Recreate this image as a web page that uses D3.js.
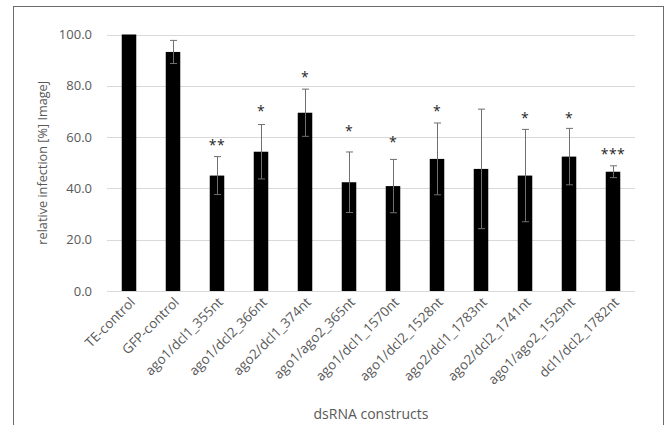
<!DOCTYPE html>
<html>
<head>
<meta charset="utf-8">
<script src="https://cdn.jsdelivr.net/npm/d3@7"></script>
<style>
  html, body { margin: 0; padding: 0; background: #fff; }
  svg { display: block; font-family: "Open Sans", "Noto Sans", sans-serif; }
</style>
</head>
<body>
<svg id="chart" width="672" height="425"></svg>
<script>
const categories = ["TE-control", "GFP-control", "ago1/dcl1_355nt", "ago1/dcl2_366nt", "ago2/dcl1_374nt",
  "ago1/ago2_365nt", "ago1/dcl1_1570nt", "ago1/dcl2_1528nt", "ago2/dcl1_1783nt", "ago2/dcl2_1741nt",
  "ago1/ago2_1529nt", "dcl1/dcl2_1782nt"];
const values = [100.0, 93.2, 45.0, 54.3, 69.5, 42.4, 40.9, 51.5, 47.6, 45.0, 52.4, 46.5];
const errors = [0, 4.5, 7.4, 10.6, 9.2, 11.8, 10.4, 14.0, 23.3, 18.0, 11.0, 2.3];
const stars = ["", "", "**", "*", "*", "*", "*", "*", "", "*", "*", "***"];
const starPos = [0, 0, 57.7, 71.0, 84.6, 63.2, 58.9, 71.0, 0, 68.3, 68.3, 54.2];
const yTicks = [0, 20, 40, 60, 80, 100];
const yTitle = "relative infection [%] ImageJ";
const xTitle = "dsRNA constructs";

(function () {
const svg = d3.select("#chart");
const pLeft = 107, pRight = 635, pTop = 34.5, pBottom = 291;

// outer frame
svg.append("rect").attr("x", 13.5).attr("y", 6.5).attr("width", 650).attr("height", 440)
  .attr("fill", "none").attr("stroke", "#6b6b6b").attr("stroke-width", 1);

const x = d3.scaleBand().domain(categories).range([pLeft, pRight]).paddingInner(0.67).paddingOuter(0.335);
const y = d3.scaleLinear().domain([0, 100]).range([pBottom, pTop]);

// gridlines
svg.append("g").selectAll("line").data(yTicks).join("line")
  .attr("x1", pLeft).attr("x2", pRight)
  .attr("y1", d => Math.round(y(d)) + 0.5).attr("y2", d => Math.round(y(d)) + 0.5)
  .attr("stroke", "#d9d9d9").attr("stroke-width", 1);

// y axis labels
const yAxis = d3.axisLeft(y).tickValues(yTicks).tickFormat(d3.format(".1f")).tickSize(0).tickPadding(15);
const gy = svg.append("g").attr("transform", `translate(${pLeft},0)`).call(yAxis);
gy.select(".domain").remove();
gy.selectAll("text").attr("fill", "#595959").style("font-size", "13px").style("font-family", "'Open Sans', sans-serif");

// bars
svg.append("g").selectAll("rect").data(categories).join("rect")
  .attr("x", d => x(d)).attr("width", x.bandwidth())
  .attr("y", (d, i) => y(values[i])).attr("height", (d, i) => y(0) - y(values[i]))
  .attr("fill", "#000");

// error bars
const eb = svg.append("g").attr("stroke", "#6f6f6f").attr("stroke-width", 1);
categories.forEach((c, i) => {
  if (!errors[i]) return;
  const cx = Math.round(x(c) + x.bandwidth() / 2) + 0.5;
  const y1 = y(values[i] + errors[i]), y2 = y(values[i] - errors[i]);
  eb.append("line").attr("x1", cx).attr("x2", cx).attr("y1", y1).attr("y2", y2);
  eb.append("line").attr("x1", cx - 3.5).attr("x2", cx + 3.5).attr("y1", y1).attr("y2", y1);
  eb.append("line").attr("x1", cx - 3.5).attr("x2", cx + 3.5).attr("y1", y2).attr("y2", y2);
});

// significance stars
svg.append("g").selectAll("text").data(categories).join("text")
  .attr("x", d => x(d) + x.bandwidth() / 2)
  .attr("y", (d, i) => y(starPos[i]) + 7.5)
  .attr("text-anchor", "middle")
  .attr("fill", "#262626")
  .style("font-size", "14px")
  .style("letter-spacing", "0.5px")
  .text((d, i) => stars[i]);

// x axis labels
const xAxis = d3.axisBottom(x).tickSize(0).tickPadding(0);
const gx = svg.append("g").attr("transform", `translate(0,${pBottom})`).call(xAxis);
gx.select(".domain").remove();
gx.selectAll(".tick text")
  .attr("fill", "#595959")
  .style("font-size", "13.5px").style("font-family", "'Open Sans', sans-serif")
  .attr("text-anchor", "end")
  .attr("dy", null).attr("y", null)
  .attr("transform", "translate(7,12) rotate(-45)");

// axis titles
svg.append("text").attr("x", (pLeft + pRight) / 2).attr("y", 419).attr("text-anchor", "middle")
  .attr("fill", "#595959").style("font-size", "14px").text(xTitle);
svg.append("text").attr("transform", `translate(47,${(pTop + pBottom) / 2}) rotate(-90)`)
  .attr("text-anchor", "middle").attr("fill", "#595959").style("font-size", "12.7px").text(yTitle);
})();
</script>
</body>
</html>
